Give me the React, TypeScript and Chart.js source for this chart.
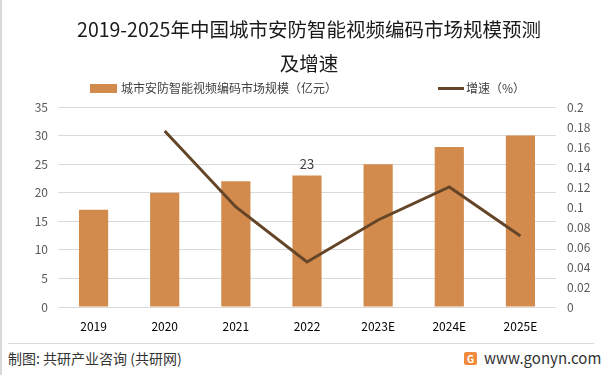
import React, { useEffect, useRef } from "react";
import { Chart, registerables } from "chart.js";

Chart.register(...registerables);

const categories = ["2019", "2020", "2021", "2022", "2023E", "2024E", "2025E"];
const marketSize = [17, 20, 22, 23, 25, 28, 30];
const growthRate = [null, 0.176, 0.1, 0.045, 0.087, 0.12, 0.071];
const labeledCategories = ["2022"];
const titleLines = ["2019-2025年中国城市安防智能视频编码市场规模预测", "及增速"];
const barLegend = "城市安防智能视频编码市场规模（亿元）";
const lineLegend = "增速（%）";
const sourceText = "制图: 共研产业咨询 (共研网)";
const siteText = "www.gonyn.com";

const FONT = '"Noto Sans CJK SC", "Noto Sans", sans-serif';
const BAR_COLOR = "#D38B4D";
const LINE_COLOR = "#654528";

const valueLabelPlugin = {
  id: "valueLabel",
  afterDatasetsDraw(chart: any) {
    const meta = chart.getDatasetMeta(0);
    const ctx = chart.ctx;
    ctx.save();
    ctx.font = `13px ${FONT}`;
    ctx.fillStyle = "#404040";
    ctx.textAlign = "center";
    ctx.textBaseline = "bottom";
    meta.data.forEach((el: any, i: number) => {
      if (labeledCategories.includes(categories[i])) {
        ctx.fillText(String(marketSize[i]), el.x, el.y - 5);
      }
    });
    ctx.restore();
  },
};

export default function App() {
  const ref = useRef<HTMLCanvasElement>(null);
  useEffect(() => {
    if (!ref.current) return;
    const chart = new Chart(ref.current, {
      type: "bar",
      data: {
        labels: categories,
        datasets: [
          {
            type: "bar",
            label: barLegend,
            data: marketSize,
            backgroundColor: BAR_COLOR,
            yAxisID: "y",
            order: 1,
            categoryPercentage: 1,
            barPercentage: 0.41,
          } as any,
          {
            type: "line",
            label: lineLegend,
            data: growthRate,
            borderColor: LINE_COLOR,
            backgroundColor: LINE_COLOR,
            borderWidth: 3,
            pointRadius: 0,
            tension: 0,
            yAxisID: "y1",
            order: 0,
          } as any,
        ],
      },
      options: {
        responsive: false,
        animation: false,
        layout: { padding: { top: 107, left: 0, right: 0, bottom: 0 } },
        plugins: {
          legend: { display: false },
          title: { display: false },
          tooltip: { enabled: false },
        },
        scales: {
          x: {
            grid: { display: false, drawTicks: false },
            border: { display: false },
            ticks: { color: "#000", font: { family: FONT, size: 12 }, padding: 12 },
            afterFit(scale: any) {
              scale.height = 38;
            },
          },
          y: {
            position: "left",
            min: 0,
            max: 35,
            ticks: { stepSize: 5, color: "#595959", font: { family: FONT, size: 12 }, padding: 10 },
            grid: { color: "#d9d9d9", drawTicks: false },
            border: { display: false },
            afterFit(scale: any) {
              scale.width = 56;
            },
          },
          y1: {
            position: "right",
            min: 0,
            max: 0.2,
            ticks: {
              stepSize: 0.02,
              color: "#595959",
              font: { family: FONT, size: 12 },
              padding: 11,
              callback: (v: any) => String(parseFloat(Number(v).toFixed(2))),
            },
            grid: { display: false, drawTicks: false },
            border: { display: false },
            afterFit(scale: any) {
              scale.width = 46;
            },
          },
        },
      },
      plugins: [valueLabelPlugin],
    });
    return () => chart.destroy();
  }, []);

  return (
    <div
      style={{
        position: "absolute",
        left: 0,
        top: 0,
        width: 602,
        height: 375,
        background: "#fff",
        fontFamily: FONT,
        overflow: "hidden",
        borderLeft: "2px solid #d9d9d9",
        boxSizing: "border-box",
      }}
    >
      <canvas ref={ref} width={600} height={345} style={{ position: "absolute", left: 0, top: 0 }} />
      {titleLines.map((t, i) => (
        <div
          key={i}
          style={{
            position: "absolute",
            left: 0,
            width: 600,
            top: 16 + i * 34,
            height: 26,
            lineHeight: "26px",
            textAlign: "center",
            fontSize: 19.5,
            color: "#1a1a1a",
            whiteSpace: "nowrap",
            paddingLeft: 14,
            boxSizing: "border-box",
          }}
        >
          {t}
        </div>
      ))}
      <div style={{ position: "absolute", left: 88, top: 84, width: 27, height: 9, background: BAR_COLOR }} />
      <div style={{ position: "absolute", left: 119, top: 80, fontSize: 12, lineHeight: "16px", color: "#404040", whiteSpace: "nowrap" }}>
        {barLegend}
      </div>
      <div style={{ position: "absolute", left: 436, top: 87, width: 26, height: 3, background: LINE_COLOR }} />
      <div style={{ position: "absolute", left: 464, top: 80, fontSize: 12, lineHeight: "16px", color: "#404040", whiteSpace: "nowrap" }}>
        {lineLegend}
      </div>
      <div style={{ position: "absolute", left: 6, right: 8, top: 343, height: 1, background: "#d9d9d9" }} />
      <div style={{ position: "absolute", left: 6, top: 348, fontSize: 14, lineHeight: "20px", color: "#333", whiteSpace: "nowrap" }}>
        {sourceText}
      </div>
      <div
        style={{
          position: "absolute",
          left: 462,
          top: 352,
          width: 13,
          height: 13,
          borderRadius: 2,
          background: "#f08a3c",
          color: "#fff",
          fontSize: 10,
          lineHeight: "13px",
          textAlign: "center",
          fontWeight: 700,
        }}
      >
        G
      </div>
      <div style={{ position: "absolute", left: 482, top: 348, fontSize: 15, lineHeight: "20px", color: "#333", whiteSpace: "nowrap" }}>
        {siteText}
      </div>
    </div>
  );
}
